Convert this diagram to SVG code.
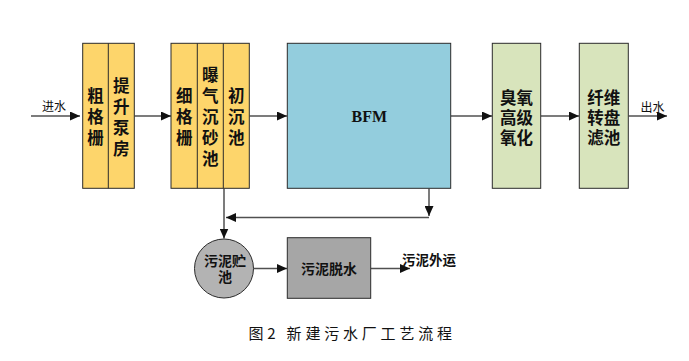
<svg xmlns="http://www.w3.org/2000/svg" width="689" height="361" viewBox="0 0 689 361">
<style>
.box{stroke:#2b2b2b;stroke-width:1}
.y{fill:#FDD56B}
.g{fill:#D8E4BC}
.b{fill:#93CDDD}
.s{fill:#A6A6A6}
.c{fill:#B3B3B3}
.t{font-family:"Noto Sans CJK SC","Liberation Sans",sans-serif;font-weight:bold;font-size:16.5px;fill:#111;text-anchor:middle;dominant-baseline:central}
.lbl{font-family:"Noto Sans CJK SC","Liberation Sans",sans-serif;font-size:12px;fill:#111;text-anchor:middle;dominant-baseline:central}
.ln{stroke:#505050;stroke-width:1.5;fill:none}
</style>
<defs>
<marker id="ah" markerUnits="userSpaceOnUse" markerWidth="10" markerHeight="9" refX="10" refY="4.5" orient="auto">
<path d="M0,0 L10,4.5 L0,9 z" fill="#111"/>
</marker>
</defs>
<rect width="689" height="361" fill="#fff"/>

<g id="connectors">
<line class="ln" x1="31" y1="116" x2="80" y2="116" marker-end="url(#ah)"/>
<line class="ln" x1="134.5" y1="116" x2="171" y2="116" marker-end="url(#ah)"/>
<line class="ln" x1="249.5" y1="116" x2="287" y2="116" marker-end="url(#ah)"/>
<line class="ln" x1="451" y1="116" x2="492" y2="116" marker-end="url(#ah)"/>
<line class="ln" x1="541" y1="116" x2="579" y2="116" marker-end="url(#ah)"/>
<line class="ln" x1="628.5" y1="116" x2="667" y2="116" marker-end="url(#ah)"/>
<line class="ln" x1="429" y1="188.5" x2="429" y2="216" marker-end="url(#ah)"/>
<line class="ln" x1="429" y1="217.5" x2="226" y2="217.5" stroke="#707070" marker-end="url(#ah)"/>
<line class="ln" x1="224" y1="188.5" x2="224" y2="238.5" marker-end="url(#ah)"/>
<line class="ln" x1="253.5" y1="268.5" x2="287" y2="268.5" marker-end="url(#ah)"/>
<line class="ln" x1="371" y1="268.5" x2="410" y2="268.5" marker-end="url(#ah)"/>
</g>

<g id="label-in"><text class="lbl" x="54" y="105.5">进水</text></g>
<g id="label-out"><text class="lbl" x="652.5" y="106.5">出水</text></g>

<g id="n1">
<rect class="box y" x="82.7" y="43.3" width="51.6" height="145"/>
<line x1="108.3" y1="43.3" x2="108.3" y2="188.3" stroke="#2b2b2b" stroke-width="1"/>
<text class="t"><tspan x="95.5" y="95">粗</tspan><tspan x="95.5" y="116">格</tspan><tspan x="95.5" y="137">栅</tspan></text>
<text class="t"><tspan x="121.3" y="84.5">提</tspan><tspan x="121.3" y="105.5">升</tspan><tspan x="121.3" y="126.5">泵</tspan><tspan x="121.3" y="147.5">房</tspan></text>
</g>

<g id="n2">
<rect class="box y" x="171" y="43.3" width="78.3" height="145"/>
<line x1="197.3" y1="43.3" x2="197.3" y2="188.3" stroke="#2b2b2b" stroke-width="1"/>
<line x1="223.3" y1="43.3" x2="223.3" y2="188.3" stroke="#2b2b2b" stroke-width="1"/>
<text class="t"><tspan x="184.2" y="95">细</tspan><tspan x="184.2" y="116">格</tspan><tspan x="184.2" y="137">栅</tspan></text>
<text class="t"><tspan x="210.3" y="74">曝</tspan><tspan x="210.3" y="95">气</tspan><tspan x="210.3" y="116">沉</tspan><tspan x="210.3" y="137">砂</tspan><tspan x="210.3" y="158">池</tspan></text>
<text class="t"><tspan x="236.3" y="95">初</tspan><tspan x="236.3" y="116">沉</tspan><tspan x="236.3" y="137">池</tspan></text>
</g>

<g id="n3">
<rect class="box b" x="287.3" y="43.3" width="163.4" height="145"/>
<text x="369.3" y="116.5" font-family="Liberation Serif,serif" font-weight="bold" font-size="16" fill="#111" text-anchor="middle" dominant-baseline="central">BFM</text>
</g>

<g id="n4">
<rect class="box g" x="492.3" y="43.3" width="48.4" height="145"/>
<text class="t"><tspan x="516.5" y="97">臭氧</tspan><tspan x="516.5" y="117">高级</tspan><tspan x="516.5" y="137">氧化</tspan></text>
</g>

<g id="n5">
<rect class="box g" x="579.3" y="43.3" width="49" height="145"/>
<text class="t"><tspan x="603.8" y="97">纤维</tspan><tspan x="603.8" y="117">转盘</tspan><tspan x="603.8" y="137">滤池</tspan></text>
</g>

<g id="n6">
<circle class="box c" cx="224" cy="268.5" r="29.5"/>
<text class="t" style="font-size:14px"><tspan x="225" y="260">污泥贮</tspan><tspan x="225" y="276">池</tspan></text>
</g>

<g id="n7">
<rect class="box s" x="287.3" y="237.7" width="83.4" height="60.6"/>
<text class="t" style="font-size:14px" x="329" y="268">污泥脱水</text>
</g>

<g id="label-sludge"><text class="t" style="font-size:13.5px" x="429" y="258.5">污泥外运</text></g>

<g id="caption">
<text x="248.5" y="332.5" font-family="Noto Sans CJK SC,sans-serif" font-size="15" fill="#111" letter-spacing="3.8" dominant-baseline="central">图2 新建污水厂工艺流程</text>
</g>
</svg>
